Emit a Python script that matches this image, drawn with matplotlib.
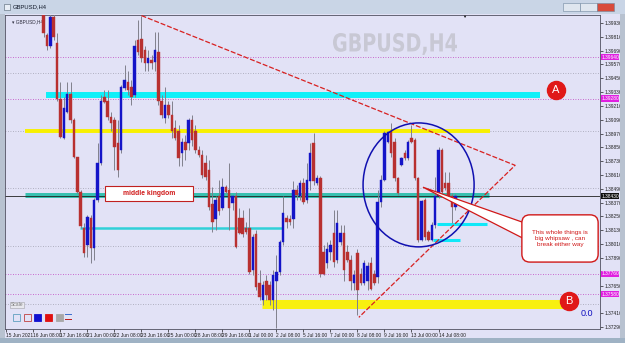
import numpy as np
import matplotlib
matplotlib.use("Agg")
import matplotlib.pyplot as plt
from matplotlib.patches import Rectangle, Ellipse, FancyBboxPatch, Polygon, PathPatch
from matplotlib.transforms import blended_transform_factory, Affine2D
from matplotlib.textpath import TextPath
from matplotlib.font_manager import FontProperties

# ---- data (GBPUSD, H4, 15 Jun - 15 Jul 2021) ----
first_bar = 11  # earlier bars sit above the visible price range

opens = [1.4012, 1.3983, 1.3974, 1.3999, 1.3976, 1.3928, 1.3894, 1.3916, 1.3932, 1.3909,
         1.3877, 1.3847, 1.3816, 1.3801, 1.3824, 1.3798, 1.3840, 1.3872, 1.3929, 1.3926,
         1.3912, 1.3909, 1.3889, 1.3883, 1.3937, 1.3942, 1.3938, 1.3931, 1.3979, 1.3980,
         1.3970, 1.3959, 1.3961, 1.3960, 1.3968, 1.3926, 1.3911, 1.3922, 1.3914, 1.3902,
         1.3900, 1.3881, 1.3890, 1.3889, 1.3909, 1.3900, 1.3883, 1.3879, 1.3872, 1.3866,
         1.3836, 1.3823, 1.3843, 1.3833, 1.3851, 1.3849, 1.3837, 1.3843, 1.3824, 1.3824,
         1.3816, 1.3816, 1.3779, 1.3810, 1.3768, 1.3753, 1.3770, 1.3766, 1.3753, 1.3770,
         1.3777, 1.3803, 1.3824, 1.3823, 1.3823, 1.3849, 1.3843, 1.3855, 1.3840, 1.3856,
         1.3889, 1.3855, 1.3859, 1.3795, 1.3785, 1.3795, 1.3811, 1.3788, 1.3803, 1.3811,
         1.3795, 1.3788, 1.3768, 1.3794, 1.3776, 1.3768, 1.3770, 1.3785, 1.3776, 1.3773,
         1.3838, 1.3857, 1.3890, 1.3900, 1.3890, 1.3859, 1.3870, 1.3881, 1.3876, 1.3894,
         1.3892, 1.3859, 1.3805, 1.3840, 1.3812, 1.3805, 1.3818, 1.3843, 1.3883, 1.3855,
         1.3855, 1.3843, 1.3834]
highs = [1.4020, 1.3985, 1.4003, 1.4003, 1.3985, 1.3942, 1.3929, 1.3942, 1.3942, 1.3911,
         1.3877, 1.3849, 1.3820, 1.3827, 1.3827, 1.3842, 1.3889, 1.3931, 1.3935, 1.3935,
         1.3916, 1.3912, 1.3909, 1.3940, 1.3957, 1.3952, 1.3944, 1.3979, 1.3996, 1.4000,
         1.3974, 1.3970, 1.3966, 1.3986, 1.3986, 1.3931, 1.3938, 1.3926, 1.3926, 1.3909,
         1.3905, 1.3894, 1.3896, 1.3911, 1.3914, 1.3905, 1.3887, 1.3883, 1.3879, 1.3875,
         1.3851, 1.3843, 1.3857, 1.3859, 1.3853, 1.3872, 1.3844, 1.3847, 1.3833, 1.3831,
         1.3821, 1.3833, 1.3810, 1.3814, 1.3779, 1.3770, 1.3775, 1.3770, 1.3779, 1.3792,
         1.3805, 1.3843, 1.3827, 1.3827, 1.3856, 1.3853, 1.3857, 1.3859, 1.3872, 1.3889,
         1.3898, 1.3862, 1.3861, 1.3801, 1.3803, 1.3805, 1.3831, 1.3831, 1.3818, 1.3818,
         1.3801, 1.3792, 1.3779, 1.3797, 1.3781, 1.3788, 1.3786, 1.3790, 1.3779, 1.3849,
         1.3862, 1.3900, 1.3900, 1.3907, 1.3894, 1.3860, 1.3877, 1.3883, 1.3892, 1.3905,
         1.3894, 1.3860, 1.3840, 1.3842, 1.3814, 1.3821, 1.3860, 1.3886, 1.3885, 1.3864,
         1.3864, 1.3846, 1.3845]
lows = [1.3981, 1.3970, 1.3972, 1.3979, 1.3926, 1.3894, 1.3893, 1.3915, 1.3907, 1.3876,
        1.3846, 1.3816, 1.3790, 1.3790, 1.3785, 1.3788, 1.3838, 1.3870, 1.3924, 1.3909,
        1.3900, 1.3866, 1.3860, 1.3881, 1.3935, 1.3931, 1.3922, 1.3929, 1.3966, 1.3960,
        1.3952, 1.3952, 1.3954, 1.3952, 1.3922, 1.3911, 1.3907, 1.3911, 1.3894, 1.3892,
        1.3869, 1.3869, 1.3875, 1.3883, 1.3887, 1.3881, 1.3877, 1.3859, 1.3857, 1.3831,
        1.3812, 1.3814, 1.3827, 1.3831, 1.3846, 1.3814, 1.3831, 1.3798, 1.3810, 1.3808,
        1.3810, 1.3776, 1.3775, 1.3762, 1.3753, 1.3749, 1.3753, 1.3749, 1.3744, 1.3729,
        1.3775, 1.3801, 1.3816, 1.3818, 1.3816, 1.3840, 1.3840, 1.3836, 1.3837, 1.3849,
        1.3853, 1.3853, 1.3773, 1.3775, 1.3781, 1.3788, 1.3782, 1.3785, 1.3801, 1.3770,
        1.3786, 1.3762, 1.3762, 1.3740, 1.3766, 1.3766, 1.3762, 1.3762, 1.3766, 1.3768,
        1.3834, 1.3856, 1.3889, 1.3877, 1.3856, 1.3844, 1.3869, 1.3875, 1.3875, 1.3889,
        1.3857, 1.3803, 1.3804, 1.3805, 1.3804, 1.3804, 1.3816, 1.3842, 1.3846, 1.3849,
        1.3840, 1.3820, 1.3831]
closes = [1.3985, 1.3974, 1.3999, 1.3981, 1.3928, 1.3895, 1.3920, 1.3932, 1.3909, 1.3877,
          1.3847, 1.3817, 1.3794, 1.3825, 1.3798, 1.3840, 1.3872, 1.3926, 1.3925, 1.3912,
          1.3907, 1.3886, 1.3866, 1.3938, 1.3944, 1.3935, 1.3929, 1.3974, 1.3968, 1.3963,
          1.3959, 1.3963, 1.3959, 1.3970, 1.3926, 1.3914, 1.3922, 1.3914, 1.3900, 1.3894,
          1.3876, 1.3890, 1.3883, 1.3909, 1.3892, 1.3883, 1.3879, 1.3862, 1.3860, 1.3834,
          1.3821, 1.3840, 1.3830, 1.3851, 1.3847, 1.3833, 1.3843, 1.3799, 1.3811, 1.3810,
          1.3812, 1.3777, 1.3808, 1.3764, 1.3756, 1.3766, 1.3757, 1.3753, 1.3775, 1.3777,
          1.3803, 1.3829, 1.3821, 1.3821, 1.3849, 1.3844, 1.3855, 1.3838, 1.3857, 1.3881,
          1.3856, 1.3859, 1.3776, 1.3776, 1.3797, 1.3801, 1.3786, 1.3820, 1.3811, 1.3779,
          1.3788, 1.3770, 1.3775, 1.3762, 1.3768, 1.3785, 1.3783, 1.3763, 1.3768, 1.3838,
          1.3857, 1.3898, 1.3899, 1.3881, 1.3859, 1.3846, 1.3876, 1.3876, 1.3890, 1.3890,
          1.3859, 1.3805, 1.3839, 1.3808, 1.3805, 1.3818, 1.3843, 1.3883, 1.3847, 1.3850,
          1.3842, 1.3834, 1.3843]

bid = 1.3843

time_ticks = list(range(0, 129, 8))
time_labels = ["15 Jun 2021", "16 Jun 08:00", "17 Jun 16:00", "21 Jun 00:00", "22 Jun 08:00",
               "23 Jun 16:00", "25 Jun 00:00", "28 Jun 08:00", "29 Jun 16:00", "1 Jul 00:00",
               "2 Jul 08:00", "5 Jul 16:00", "7 Jul 00:00", "8 Jul 08:00", "9 Jul 16:00",
               "13 Jul 00:00", "14 Jul 08:00"]

price_ticks = [1.37296, 1.37416, 1.37536, 1.37656, 1.37776, 1.37896, 1.38016, 1.38136,
               1.38256, 1.38376, 1.38496, 1.38616, 1.38736, 1.38856, 1.38976, 1.39096,
               1.39216, 1.39336, 1.39456, 1.39576, 1.39696, 1.39816, 1.39936]

# horizontal objects: price, first bar, last bar
cyan_top = (1.3931, 11.7, 158.0)
yellow_top = (1.3900, 5.6, 143.3)
teal_mid = (1.3844, 5.6, 143.0)
cyan_thin = (1.3816, 21.8, 81.9)
cyan_short1 = (1.3819, 127.5, 142.4)
cyan_short2 = (1.3805, 126.4, 134.4)
yellow_bottom = (1.3750, 75.7, 164.9)

grey_dotted = [1.3950, 1.3900, 1.3850, 1.3800, 1.3750]
magenta_dotted = [1.3964, 1.3928, 1.3776, 1.3758]

tri_top = (40.0, 1.4000)
tri_apex = (150.7, 1.3870)
tri_bottom = (104.4, 1.3738)

# ---- figure ----
W, H = 625, 343
bg = "#e2e2f6"
fig = plt.figure(figsize=(W / 100, H / 100), dpi=100)
fig.patch.set_facecolor(bg)
plt.rcParams["font.family"] = ["Liberation Sans", "DejaVu Sans"]


def fx(px):
    return px / W


def fy(py):
    return 1 - py / H


ax = fig.add_axes([fx(5), fy(329), fx(600) - fx(5), fy(15) - fy(329)])
ax.set_facecolor(bg)
ax.set_xlim(-0.44, 175.85)
ax.set_ylim(1.37279, 1.40005)

# dotted levels
for p in grey_dotted:
    ax.axhline(p, color="#a0a0b0", lw=0.6, ls=(0, (1, 2)), zorder=1)
for p in magenta_dotted:
    ax.axhline(p, color="#c040c0", lw=0.6, ls=(0, (1, 2)), zorder=1)

# thick support / resistance bands
bands = [(cyan_top, "#10f0f8", 4.3), (yellow_top, "#f8f000", 2.8), (teal_mid, "#38c0b0", 3.6),
         (cyan_thin, "#30d0d8", 1.8), (cyan_short1, "#10e8f8", 2.2), (cyan_short2, "#10e8f8", 2.2),
         (yellow_bottom, "#f8f010", 6.5)]
for (p, a, b), col, lw in bands:
    ax.hlines(p, a, b, color=col, lw=lw, zorder=2)

ax.axhline(bid, color="#202020", lw=0.6, zorder=2.5)

# candles
o = np.array(opens)
h = np.array(highs)
l = np.array(lows)
c = np.array(closes)
idx = np.arange(first_bar, first_bar + len(o))
up = c >= o
body_col = np.where(up, "#1414c8", "#b83030")
ax.vlines(idx, l, h, color="#80808c", lw=0.7, zorder=3)
ax.bar(idx, np.maximum(np.abs(c - o), 0.00005), bottom=np.minimum(o, c), width=0.74,
       color=body_col, edgecolor=body_col, lw=0.3, zorder=4)

# triangle
tx = [tri_top[0], tri_apex[0], tri_bottom[0]]
ty = [tri_top[1], tri_apex[1], tri_bottom[1]]
ax.plot(tx, ty, color="#d82020", lw=0.9, ls=(0, (4, 1.5)), zorder=5)

# blue circle round the whipsaw
ax.add_patch(Ellipse((122.1, 1.3853), 32.9, 0.01076, fill=False, ec="#1010b0", lw=1.1, zorder=6))

# callout
ax.add_patch(Polygon([(123.4, 1.3851), (153.5, 1.3820), (153.5, 1.3806)], closed=True,
                     fc="white", ec="#d01818", lw=0.9, zorder=6))
ax.add_patch(FancyBboxPatch((152.7, 1.3786), 22.6, 0.0041,
                            boxstyle="round,pad=0,rounding_size=2.4", mutation_aspect=0.000293,
                            fc="white", ec="#d01818", lw=1.0, zorder=7))
ax.text(164.0, 1.38065, "This whole things is\nbig whipsaw , can\nbreak either way",
        ha="center", va="center", fontsize=4.6, color="#d01818", linespacing=1.25, zorder=8)

# middle kingdom label
ax.add_patch(Rectangle((29.2, 1.3839), 26.1, 0.0013, fc="white", ec="#c02020", lw=0.8, zorder=7))
ax.text(42.2, 1.38455, "middle kingdom", ha="center", va="center", fontsize=4.9,
        fontweight="bold", color="#d01818", zorder=8)

# A / B markers
for lab, xx, yy in [("A", 162.8, 1.3935), ("B", 166.7, 1.3752)]:
    ax.plot(xx, yy, "o", ms=13, color="#e01818", zorder=8)
    ax.text(xx, yy, lab, ha="center", va="center", fontsize=8, color="white", zorder=9)

ax.text(172.0, 1.3741, "0.0", ha="center", va="center", fontsize=6.5, color="#1010c0", zorder=8)

# watermark, squeezed into a narrow bold block like the terminal draws it
tp = TextPath((0, 0), "GBPUSD,H4", size=10, prop=FontProperties(family="DejaVu Sans", weight="bold"))
ext = tp.get_extents()
sx = (fx(457) - fx(333)) / ext.width
sy = (22 / H) / ext.height
wm_tr = Affine2D().translate(-ext.x0, -ext.y0).scale(sx, sy).translate(fx(333), fy(55)) + fig.transFigure
ax.add_patch(PathPatch(tp, transform=wm_tr, fc="#c8c8d4", ec="none", zorder=0.5, clip_on=False))

ax.text(0.012, 0.985, "\u25be GBPUSD,H4", transform=ax.transAxes, ha="left", va="top",
        fontsize=3.4, color="#303040")
ax.text(0.771, 1.0, "\u25bc", transform=ax.transAxes, ha="center", va="top", fontsize=3,
        color="#101010")

# axes styling; the terminal hides scale labels that clash with line labels
highlight = magenta_dotted + [bid]
shown_ticks = [p for p in price_ticks if min(abs(p - q) for q in highlight) > 0.0005]
ax.yaxis.tick_right()
ax.set_yticks(shown_ticks)
ax.set_yticklabels([f"{p:.5f}" for p in shown_ticks])
ax.set_xticks(time_ticks)
ax.set_xticklabels(time_labels, ha="left")
ax.tick_params(axis="both", labelsize=3.5, length=2, width=0.5, pad=1, colors="#202020")
for s in ax.spines.values():
    s.set_color("#505060")
    s.set_linewidth(0.6)

# price labels of highlighted lines
trans = blended_transform_factory(ax.transAxes, ax.transData)
for p in magenta_dotted:
    ax.text(1.002, p, f"{p:.5f}", transform=trans, fontsize=3.5, color="white", va="center",
            ha="left", bbox=dict(fc="#e020e0", ec="none", pad=0.4), clip_on=False)
ax.text(1.002, bid, f"{bid:.5f}", transform=trans, fontsize=3.5, color="white", va="center",
        ha="left", bbox=dict(fc="#101010", ec="none", pad=0.4), clip_on=False)

# window frame
frame = [(0, 0, 625, 14, "#c9d5e6"), (0, 14, 5, 329, "#b8c2d0"), (620, 14, 5, 329, "#b8c2d0"),
         (0, 338, 625, 5, "#9fb2c4")]
for x0, y0, w, hh, col in frame:
    fig.patches.append(Rectangle((fx(x0), fy(y0 + hh)), fx(w), hh / H, transform=fig.transFigure,
                                 fc=col, ec="none", zorder=0))
for x0, col in [(563, "#dfe6ef"), (580, "#dfe6ef"), (597, "#d84a3a")]:
    fig.patches.append(Rectangle((fx(x0), fy(11)), fx(17), 8 / H, transform=fig.transFigure,
                                 fc=col, ec="#7088a0", lw=0.4, zorder=1))
fig.text(fx(13), fy(6.5), "GBPUSD,H4", fontsize=4.2, color="#101828", va="center")
fig.patches.append(Rectangle((fx(4), fy(10)), fx(6), 6 / H, transform=fig.transFigure,
                             fc="#e8eef6", ec="#506070", lw=0.4))

# scale / colour widget bottom-left
fig.text(fx(11), fy(305), "Scale", fontsize=3.6, color="#808080", va="center",
         bbox=dict(fc="#e8e8ee", ec="#a0a0a8", pad=0.6, lw=0.4))
for x0, fc, ec in [(13, "none", "#60a0c0"), (24, "none", "#c04040"), (34, "#1010d0", "#1010d0"),
                   (45, "#e01010", "#e01010"), (56, "#a8a8a8", "#a8a8a8")]:
    fig.patches.append(Rectangle((fx(x0), fy(321)), fx(7), 7 / H, transform=fig.transFigure,
                                 fc=fc, ec=ec, lw=0.6))
fig.patches.append(Rectangle((fx(65), fy(315)), fx(7), 1.2 / H, transform=fig.transFigure,
                             fc="#4070d0", ec="none"))
fig.patches.append(Rectangle((fx(65), fy(320)), fx(7), 1.2 / H, transform=fig.transFigure,
                             fc="#c02020", ec="none"))

fig.savefig("out.png", dpi=100, facecolor=fig.get_facecolor())
